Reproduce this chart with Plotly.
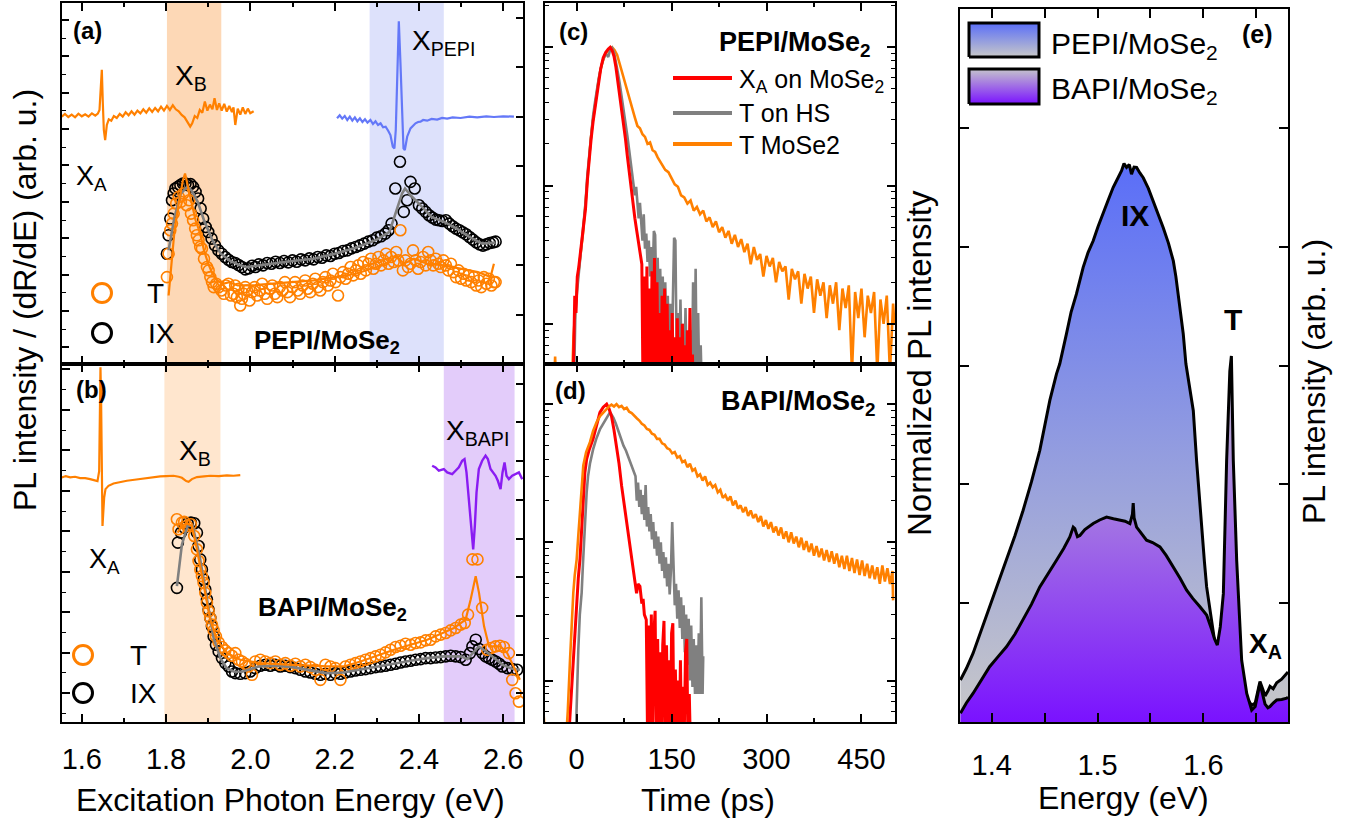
import plotly.graph_objects as go

W, H = 1354, 821

# ---------------- Panel (a): PEPI/MoSe2 ----------------
a_dr_mose2 = [(1.5525, 74.0), (1.5600, 74.8), (1.5680, 73.9), (1.5760, 74.6), (1.5840, 73.8), (1.5920, 74.9),
              (1.6000, 74.1), (1.6080, 74.7), (1.6160, 74.0), (1.6240, 75.0), (1.6320, 74.3), (1.6380, 74.9),
              (1.6420, 76.0), (1.6451, 84.0), (1.6475, 88.0), (1.6499, 78.0), (1.6523, 70.0), (1.6554, 67.0),
              (1.6594, 71.5), (1.6640, 73.2), (1.6700, 72.8), (1.6760, 74.2), (1.6830, 73.6), (1.6900, 74.8),
              (1.6970, 74.0), (1.7040, 75.3), (1.7110, 74.4), (1.7180, 75.6), (1.7250, 74.6), (1.7320, 75.8),
              (1.7390, 75.0), (1.7460, 76.2), (1.7530, 75.2), (1.7600, 76.5), (1.7670, 75.4), (1.7740, 76.6),
              (1.7810, 75.6), (1.7880, 77.0), (1.7950, 75.8), (1.8020, 77.2), (1.8090, 76.0), (1.8160, 77.4),
              (1.8230, 76.2), (1.8300, 75.6), (1.8370, 74.5), (1.8440, 73.8), (1.8500, 72.5), (1.8573, 71.0),
              (1.8620, 72.0), (1.8680, 74.2), (1.8740, 73.6), (1.8800, 76.0), (1.8860, 75.2), (1.8920, 78.5),
              (1.8980, 75.8), (1.9040, 77.6), (1.9100, 76.2), (1.9150, 79.5), (1.9207, 76.0), (1.9260, 78.0),
              (1.9320, 75.8), (1.9380, 77.8), (1.9440, 75.5), (1.9500, 77.2), (1.9563, 75.4), (1.9600, 76.8),
              (1.9642, 71.5), (1.9700, 76.4), (1.9761, 74.6), (1.9820, 76.8), (1.9880, 74.8), (1.9940, 76.4),
              (1.9998, 75.0), (2.0078, 75.6)]
a_dr_pepi = [(2.2057, 73.5), (2.2120, 74.4), (2.2180, 73.4), (2.2240, 74.2), (2.2300, 73.0), (2.2360, 74.0),
             (2.2420, 72.8), (2.2480, 73.8), (2.2540, 72.6), (2.2600, 73.5), (2.2660, 72.4), (2.2720, 73.2),
             (2.2780, 72.2), (2.2849, 73.0), (2.2910, 71.8), (2.2970, 72.6), (2.3030, 71.5), (2.3090, 72.0),
             (2.3150, 70.8), (2.3210, 71.0), (2.3270, 69.8), (2.3324, 68.5), (2.3380, 65.0), (2.3419, 64.5),
             (2.3451, 70.0), (2.3483, 88.0), (2.3523, 102.5), (2.3562, 90.0), (2.3602, 72.0), (2.3634, 64.5),
             (2.3666, 64.0), (2.3721, 68.0), (2.3800, 70.5), (2.3860, 71.2), (2.3919, 72.0), (2.3980, 72.4),
             (2.4037, 72.5), (2.4100, 73.0), (2.4196, 72.8), (2.4300, 73.3), (2.4433, 73.1), (2.4550, 73.6),
             (2.4671, 73.4), (2.4800, 73.8), (2.4988, 73.6), (2.5200, 74.0), (2.5384, 73.8), (2.5600, 74.1),
             (2.5780, 73.9), (2.6000, 74.1), (2.6255, 74.0)]
a_T_pts = [(1.802, 26.0), (1.806, 33.0), (1.810, 40.0), (1.814, 42.0), (1.818, 45.0), (1.824, 48.0), (1.830, 50.0),
           (1.835, 48.5), (1.841, 51.0), (1.849, 47.5), (1.855, 49.0), (1.859, 45.0), (1.864, 43.0), (1.869, 40.5),
           (1.873, 38.5), (1.877, 37.0), (1.881, 35.0), (1.885, 34.5), (1.890, 31.5), (1.897, 29.0), (1.901, 28.0),
           (1.905, 26.0), (1.909, 24.5), (1.913, 23.0), (1.919, 24.0), (1.925, 23.0), (1.931, 22.0), (1.937, 21.0),
           (1.942, 23.5), (1.948, 24.0), (1.954, 20.5), (1.960, 21.0), (1.964, 23.5), (1.968, 20.0), (1.972, 22.5),
           (1.976, 17.5), (1.980, 19.5), (1.984, 21.0), (1.988, 23.0), (1.992, 22.0), (1.998, 19.0), (2.004, 21.5),
           (2.010, 23.0), (2.016, 20.5), (2.022, 22.0), (2.028, 24.0), (2.034, 21.0), (2.040, 19.5), (2.046, 22.5),
           (2.052, 23.5), (2.058, 21.0), (2.064, 20.0), (2.070, 23.0), (2.076, 22.0), (2.082, 24.5), (2.088, 21.5),
           (2.094, 20.0), (2.100, 23.0), (2.106, 24.5), (2.112, 22.0), (2.118, 21.0), (2.124, 23.5), (2.130, 25.0),
           (2.136, 22.5), (2.142, 21.5), (2.148, 24.0), (2.154, 25.5), (2.160, 23.0), (2.166, 22.0), (2.172, 24.5),
           (2.178, 26.0), (2.184, 23.5), (2.190, 25.0), (2.196, 27.0), (2.202, 24.5), (2.208, 20.5), (2.214, 26.0),
           (2.220, 27.5), (2.226, 25.5), (2.232, 27.0), (2.238, 29.0), (2.244, 26.5), (2.250, 28.0), (2.256, 29.5),
           (2.262, 27.0), (2.268, 30.5), (2.274, 28.0), (2.280, 30.0), (2.286, 31.5), (2.292, 28.5), (2.298, 30.0),
           (2.304, 32.0), (2.310, 29.5), (2.316, 31.0), (2.322, 33.0), (2.328, 30.0), (2.334, 32.0), (2.340, 30.5),
           (2.346, 33.5), (2.351, 31.0), (2.356, 40.0), (2.362, 28.0), (2.368, 31.0), (2.374, 29.0), (2.380, 30.0),
           (2.386, 34.0), (2.392, 31.0), (2.398, 28.5), (2.404, 30.5), (2.410, 32.0), (2.416, 29.5), (2.422, 33.5),
           (2.428, 31.0), (2.434, 29.5), (2.440, 31.5), (2.446, 30.0), (2.452, 29.0), (2.458, 31.0), (2.464, 29.5),
           (2.470, 28.0), (2.476, 30.0), (2.482, 27.5), (2.488, 26.0), (2.494, 28.0), (2.500, 25.5), (2.506, 27.0),
           (2.512, 25.0), (2.518, 26.5), (2.524, 24.5), (2.530, 26.0), (2.536, 23.5), (2.542, 25.0), (2.548, 23.0),
           (2.554, 26.0), (2.560, 24.0), (2.566, 25.5), (2.572, 23.5), (2.578, 24.5), (2.582, 24.5)]
a_T_fit = [(1.806, 20.5), (1.812, 30.0), (1.820, 40.0), (1.830, 48.0), (1.840, 55.0), (1.845, 57.0), (1.850, 54.0),
           (1.860, 48.0), (1.870, 43.0), (1.881, 39.0), (1.890, 34.0), (1.900, 30.0), (1.910, 27.0), (1.921, 25.0),
           (1.935, 24.0), (1.950, 24.5), (1.970, 23.5), (2.000, 23.5), (2.050, 24.0), (2.100, 24.5), (2.150, 25.0),
           (2.200, 26.0), (2.250, 27.0), (2.300, 29.0), (2.330, 30.5), (2.345, 32.5), (2.364, 30.0), (2.388, 31.5),
           (2.420, 30.0), (2.459, 29.5), (2.500, 28.5), (2.540, 27.5), (2.570, 26.0), (2.578, 30.0)]
a_IX_pts = [(1.802, 33.0), (1.806, 38.5), (1.810, 43.5), (1.814, 49.0), (1.818, 51.0), (1.822, 52.5), (1.828, 53.0),
            (1.834, 53.5), (1.840, 54.0), (1.846, 54.0), (1.852, 53.5), (1.858, 53.8), (1.864, 53.0), (1.870, 51.5),
            (1.876, 49.5), (1.882, 46.5), (1.888, 43.5), (1.894, 41.0), (1.900, 39.5), (1.908, 37.5), (1.916, 35.5),
            (1.924, 34.0), (1.932, 33.0), (1.940, 32.0), (1.948, 31.2), (1.956, 30.5), (1.964, 30.2), (1.972, 29.6),
            (1.980, 29.0), (1.988, 28.3), (1.996, 28.6), (2.004, 29.4), (2.012, 29.0), (2.020, 29.8), (2.030, 29.5),
            (2.040, 30.2), (2.050, 30.0), (2.060, 30.6), (2.070, 30.2), (2.080, 30.8), (2.090, 30.4), (2.100, 31.0),
            (2.110, 30.6), (2.120, 31.3), (2.130, 31.0), (2.140, 31.6), (2.150, 31.3), (2.160, 32.0), (2.170, 31.8),
            (2.180, 32.5), (2.190, 32.3), (2.200, 33.0), (2.210, 33.2), (2.220, 33.8), (2.230, 34.0), (2.240, 34.6),
            (2.250, 35.0), (2.260, 35.5), (2.270, 36.0), (2.280, 36.6), (2.290, 37.0), (2.300, 37.8), (2.310, 38.2),
            (2.320, 39.0), (2.328, 40.0), (2.335, 42.0), (2.344, 52.5), (2.355, 60.5), (2.364, 45.5), (2.372, 49.0),
            (2.380, 54.5), (2.390, 52.5), (2.400, 47.5), (2.408, 46.5), (2.416, 45.5), (2.424, 44.5), (2.432, 43.8),
            (2.440, 43.2), (2.448, 43.0), (2.456, 42.8), (2.464, 43.0), (2.472, 42.0), (2.480, 41.2), (2.488, 40.5),
            (2.496, 40.0), (2.504, 39.4), (2.512, 38.8), (2.520, 38.0), (2.528, 37.2), (2.536, 36.4), (2.544, 35.8),
            (2.552, 35.4), (2.560, 35.8), (2.568, 36.2), (2.576, 36.4), (2.582, 36.6)]
a_IX_fit = [(1.806, 34.0), (1.820, 44.0), (1.835, 51.0), (1.850, 53.0), (1.860, 52.0), (1.875, 48.5), (1.890, 43.0),
            (1.910, 37.0), (1.930, 33.0), (1.950, 31.0), (1.970, 29.8), (1.990, 29.0), (2.010, 29.3), (2.050, 30.0),
            (2.100, 30.8), (2.150, 31.5), (2.200, 33.0), (2.250, 34.8), (2.300, 37.2), (2.330, 39.5), (2.345, 45.0),
            (2.360, 51.0), (2.367, 52.5), (2.380, 50.5), (2.400, 48.0), (2.430, 44.0), (2.460, 42.5), (2.490, 40.5),
            (2.520, 38.0), (2.550, 36.0), (2.582, 36.3)]
a_bands = [(1.802, 1.931), (2.283, 2.459)]

# ---------------- Panel (b): BAPI/MoSe2 ----------------
b_dr_mose2 = [(1.5525, 73.1), (1.5620, 73.5), (1.5723, 73.1), (1.5840, 73.3), (1.5960, 72.9), (1.6080, 72.9),
              (1.6198, 72.6), (1.6317, 72.3), (1.6372, 72.0), (1.6412, 75.0), (1.6428, 90.0), (1.6443, 106.0),
              (1.6459, 95.0), (1.6475, 72.0), (1.6491, 58.6), (1.6507, 62.0), (1.6530, 67.0), (1.6562, 69.6),
              (1.6633, 70.6), (1.6752, 71.3), (1.6900, 71.7), (1.7069, 72.1), (1.7250, 72.4), (1.7465, 72.8),
              (1.7650, 73.1), (1.7861, 73.4), (1.8000, 73.5), (1.8177, 73.6), (1.8300, 73.3), (1.8375, 73.0),
              (1.8478, 72.0), (1.8534, 71.8), (1.8613, 72.6), (1.8732, 73.2), (1.8900, 73.4), (1.9048, 73.6),
              (1.9250, 73.5), (1.9444, 73.7), (1.9600, 73.6), (1.9761, 73.8)]
b_dr_bapi = [(2.4314, 76.6), (2.4394, 76.1), (2.4473, 75.1), (2.4592, 75.6), (2.4671, 74.6), (2.4790, 74.1),
             (2.4869, 75.1), (2.4948, 76.1), (2.5027, 78.1), (2.5082, 78.6), (2.5129, 74.6), (2.5185, 66.6),
             (2.5240, 58.6), (2.5288, 51.6), (2.5327, 58.6), (2.5367, 68.6), (2.5422, 75.6), (2.5501, 78.1),
             (2.5581, 79.6), (2.5636, 78.6), (2.5699, 75.6), (2.5763, 74.6), (2.5818, 73.6), (2.5873, 72.1),
             (2.5937, 69.6), (2.5984, 74.6), (2.6032, 77.6), (2.6079, 73.6), (2.6135, 72.6), (2.6214, 73.6),
             (2.6293, 74.1), (2.6373, 74.6), (2.6452, 72.6)]
b_T_pts = [(1.8257, 60.6), (1.8296, 57.6), (1.8375, 59.6), (1.8431, 59.8), (1.8494, 58.6), (1.8589, 59.1),
           (1.8668, 55.6), (1.8732, 51.6), (1.8771, 48.1), (1.8811, 45.6), (1.8850, 43.6), (1.8890, 41.6),
           (1.8930, 38.6), (1.8969, 35.6), (1.9009, 33.1), (1.9048, 31.1), (1.9088, 29.1), (1.9128, 27.4),
           (1.9183, 25.6), (1.9247, 23.8), (1.9326, 22.4), (1.9405, 21.4), (1.9485, 20.6), (1.9564, 19.8),
           (1.9643, 20.6), (1.9722, 18.6), (1.9801, 18.1), (1.9880, 17.4), (1.9959, 16.6), (2.0038, 14.1),
           (2.0117, 18.1), (2.0236, 18.6), (2.0355, 18.1), (2.0474, 17.6), (2.0593, 18.1), (2.0711, 17.1),
           (2.0830, 17.6), (2.0949, 16.8), (2.1068, 17.4), (2.1187, 16.6), (2.1306, 17.1), (2.1424, 16.4),
           (2.1543, 15.6), (2.1662, 12.6), (2.1781, 17.1), (2.1900, 16.6), (2.2019, 16.1), (2.2138, 12.6),
           (2.2257, 16.6), (2.2375, 17.1), (2.2494, 17.6), (2.2613, 18.1), (2.2732, 18.6), (2.2851, 19.1),
           (2.2970, 19.6), (2.3089, 20.1), (2.3208, 20.8), (2.3327, 21.6), (2.3446, 22.4), (2.3565, 22.8),
           (2.3683, 23.4), (2.3802, 23.1), (2.3921, 23.6), (2.4040, 23.8), (2.4159, 24.4), (2.4278, 24.6),
           (2.4397, 25.6), (2.4516, 26.1), (2.4635, 26.6), (2.4754, 27.4), (2.4873, 28.1), (2.4992, 29.1),
           (2.5087, 29.6), (2.5166, 32.1), (2.5270, 48.6), (2.5390, 48.6), (2.5501, 34.1), (2.5620, 21.6),
           (2.5715, 22.1), (2.5818, 22.6), (2.5921, 22.8), (2.6016, 22.4), (2.6135, 20.6), (2.6214, 12.6),
           (2.6294, 8.6), (2.6373, 6.1)]
b_T_fit = [(1.8273, 56.6), (1.8375, 58.6), (1.8494, 59.4), (1.8613, 58.6), (1.8732, 51.6), (1.8890, 40.6),
           (1.9048, 30.6), (1.9207, 24.6), (1.9444, 20.6), (1.9761, 18.6), (2.0236, 17.6), (2.1029, 17.1),
           (2.1821, 16.6), (2.2217, 16.6), (2.2613, 18.1), (2.3406, 21.6), (2.4198, 24.6), (2.4832, 28.1),
           (2.5109, 30.6), (2.5228, 36.6), (2.5347, 43.6), (2.5426, 38.6), (2.5546, 28.6), (2.5664, 22.6),
           (2.5937, 22.6), (2.6095, 20.6), (2.6254, 16.6), (2.6397, 12.6)]
b_IX_pts = [(1.8257, 40.1), (1.8280, 53.6), (1.8352, 56.6), (1.8431, 58.1), (1.8510, 59.4), (1.8589, 59.6),
            (1.8668, 59.4), (1.8732, 56.6), (1.8771, 52.6), (1.8811, 48.6), (1.8850, 45.6), (1.8890, 42.6),
            (1.8930, 39.6), (1.8969, 36.6), (1.9009, 33.6), (1.9048, 31.1), (1.9088, 28.6), (1.9128, 25.6),
            (1.9183, 23.1), (1.9247, 21.1), (1.9326, 19.1), (1.9405, 17.6), (1.9485, 16.6), (1.9564, 15.1),
            (1.9643, 14.6), (1.9761, 14.4), (1.9880, 14.6), (1.9998, 15.1), (2.0117, 16.1), (2.0236, 16.8),
            (2.0355, 17.1), (2.0474, 16.8), (2.0593, 17.1), (2.0711, 16.6), (2.0830, 16.8), (2.0949, 16.4),
            (2.1068, 16.1), (2.1187, 15.6), (2.1306, 15.1), (2.1424, 14.8), (2.1543, 14.4), (2.1662, 14.1),
            (2.1781, 14.4), (2.1900, 14.1), (2.2019, 14.6), (2.2138, 14.4), (2.2257, 14.8), (2.2375, 15.1),
            (2.2494, 15.4), (2.2613, 15.6), (2.2732, 15.8), (2.2851, 16.1), (2.2970, 16.4), (2.3089, 16.6),
            (2.3208, 16.8), (2.3327, 17.1), (2.3446, 17.4), (2.3565, 17.8), (2.3683, 18.1), (2.3802, 18.3),
            (2.3921, 18.6), (2.4040, 18.8), (2.4159, 19.1), (2.4278, 19.1), (2.4397, 19.3), (2.4516, 19.4),
            (2.4635, 19.6), (2.4754, 19.8), (2.4873, 19.6), (2.4992, 19.4), (2.5110, 18.6), (2.5213, 20.6),
            (2.5269, 22.6), (2.5348, 24.6), (2.5427, 21.8), (2.5506, 20.6), (2.5585, 19.6), (2.5664, 19.1),
            (2.5743, 18.6), (2.5822, 18.1), (2.5902, 17.4), (2.5980, 16.6), (2.6100, 16.1), (2.6220, 15.8),
            (2.6330, 15.6)]
b_IX_fit = [(1.8257, 40.6), (1.8375, 53.0), (1.8510, 58.6), (1.8630, 58.6), (1.8790, 50.0), (1.8970, 37.0),
            (1.9130, 25.0), (1.9290, 19.0), (1.9440, 16.1), (1.9600, 15.1), (1.9800, 15.0), (2.0200, 16.6),
            (2.0600, 16.8), (2.1000, 16.4), (2.1400, 15.4), (2.1800, 14.6), (2.2200, 14.8), (2.2600, 15.6),
            (2.3000, 16.5), (2.3400, 17.4), (2.3800, 18.3), (2.4200, 19.1), (2.4600, 19.6), (2.5000, 19.6),
            (2.5150, 18.8), (2.5420, 22.6), (2.5600, 21.0), (2.5800, 19.0), (2.6000, 17.0), (2.6200, 16.0),
            (2.6400, 15.6)]
b_bands = [(1.796, 1.929), (2.459, 2.627)]

# ---------------- Panel (c): PEPI/MoSe2 TRPL ----------------
c_xa = [(-6, 0.003), (-3, 0.016), (-1, 0.012), (1, 0.022), (3, 0.025), (5, 0.030), (8, 0.036), (11, 0.048),
        (14, 0.068), (17, 0.11), (20, 0.16), (23, 0.22), (26, 0.29), (29, 0.37), (32, 0.47), (35, 0.59),
        (38, 0.70), (42, 0.84), (46, 0.92), (50, 0.97), (53, 1.0), (56, 0.95), (59, 0.86), (62, 0.72),
        (65, 0.57), (68, 0.46), (71, 0.37), (74, 0.29), (77, 0.22), (80, 0.165), (83, 0.125), (86, 0.095),
        (89, 0.072), (92, 0.058), (95, 0.047), (98, 0.039), (101, 0.031), (103, 0.027), (105, 0.003),
        (107, 0.022), (109, 0.002), (111, 0.026), (113, 0.003), (115, 0.018), (117, 0.002), (119, 0.024),
        (121, 0.003), (123, 0.030), (125, 0.002), (127, 0.020), (129, 0.003), (131, 0.012), (133, 0.002),
        (135, 0.016), (137, 0.003), (139, 0.018), (141, 0.002), (143, 0.014), (145, 0.003), (147, 0.009),
        (149, 0.002), (151, 0.012), (153, 0.003), (155, 0.008), (157, 0.002), (159, 0.011), (161, 0.003),
        (163, 0.008), (165, 0.002), (167, 0.010), (169, 0.003), (171, 0.007), (173, 0.002), (175, 0.009),
        (177, 0.003), (179, 0.013), (181, 0.002), (183, 0.006), (185, 0.002)]
c_t_hs = [(-4, 0.004), (-2, 0.012), (0, 0.016), (2, 0.020), (5, 0.028), (8, 0.038), (11, 0.050), (14, 0.075),
          (17, 0.12), (20, 0.17), (23, 0.24), (26, 0.32), (29, 0.40), (32, 0.50), (35, 0.60), (38, 0.70),
          (42, 0.82), (46, 0.90), (50, 0.85), (53, 0.96), (56, 0.99), (59, 0.92), (62, 0.80), (65, 0.66),
          (68, 0.55), (71, 0.45), (74, 0.36), (77, 0.29), (80, 0.23), (83, 0.18), (86, 0.14), (89, 0.11),
          (92, 0.085), (94, 0.098), (96, 0.070), (98, 0.058), (100, 0.075), (102, 0.050), (104, 0.040),
          (106, 0.062), (108, 0.035), (110, 0.045), (112, 0.028), (114, 0.040), (116, 0.022), (118, 0.036),
          (120, 0.020), (122, 0.047), (124, 0.044), (126, 0.015), (128, 0.030), (130, 0.012), (132, 0.025),
          (134, 0.010), (136, 0.022), (138, 0.008), (140, 0.020), (142, 0.007), (144, 0.016), (146, 0.006),
          (148, 0.014), (150, 0.005), (152, 0.012), (154, 0.042), (156, 0.040), (158, 0.006), (160, 0.012),
          (162, 0.004), (164, 0.015), (166, 0.005), (168, 0.010), (170, 0.004), (172, 0.013), (174, 0.004),
          (176, 0.008), (178, 0.003), (180, 0.009), (182, 0.003), (184, 0.020), (186, 0.003), (188, 0.025),
          (190, 0.003), (192, 0.012), (194, 0.003), (196, 0.007), (198, 0.003)]
c_t_mose2 = [(-36, 0.003), (-34, 0.0058), (-32, 0.003), (-8, 0.003), (-5, 0.008), (-2, 0.014), (1, 0.020),
             (4, 0.026), (7, 0.033), (10, 0.045), (13, 0.065), (16, 0.10), (19, 0.15), (22, 0.21), (25, 0.28),
             (28, 0.36), (31, 0.45), (34, 0.55), (37, 0.66), (40, 0.76), (44, 0.86), (48, 0.93), (52, 0.97),
             (56, 1.0), (60, 0.95), (64, 0.88), (68, 0.76), (72, 0.65), (76, 0.56), (80, 0.48), (84, 0.41),
             (88, 0.36), (92, 0.31), (96, 0.27), (100, 0.26), (104, 0.235), (108, 0.225), (112, 0.20),
             (116, 0.205), (120, 0.18), (124, 0.175), (128, 0.16), (132, 0.15), (136, 0.14), (140, 0.13),
             (145, 0.125), (150, 0.112), (155, 0.102), (160, 0.098), (165, 0.085), (170, 0.082), (175, 0.074),
             (180, 0.078), (185, 0.066), (190, 0.070), (195, 0.062), (200, 0.066), (205, 0.055), (210, 0.059),
             (215, 0.050), (220, 0.055), (225, 0.046), (230, 0.050), (235, 0.042), (240, 0.047), (245, 0.038),
             (250, 0.044), (255, 0.036), (260, 0.041), (265, 0.033), (270, 0.038), (275, 0.027), (280, 0.036),
             (285, 0.029), (290, 0.032), (295, 0.022), (300, 0.031), (305, 0.026), (310, 0.030), (315, 0.020),
             (320, 0.028), (325, 0.024), (330, 0.026), (335, 0.015), (340, 0.025), (345, 0.021), (350, 0.024),
             (355, 0.014), (360, 0.023), (365, 0.018), (370, 0.022), (375, 0.012), (380, 0.021), (385, 0.016),
             (390, 0.020), (395, 0.011), (400, 0.019), (405, 0.014), (410, 0.020), (415, 0.009), (420, 0.018),
             (425, 0.013), (430, 0.019), (435, 0.0045), (440, 0.017), (445, 0.011), (450, 0.018), (455, 0.008),
             (460, 0.016), (465, 0.012), (470, 0.017), (475, 0.0045), (480, 0.015), (485, 0.010), (490, 0.016),
             (495, 0.0045), (500, 0.014), (502, 0.010)]

# ---------------- Panel (d): BAPI/MoSe2 TRPL ----------------
d_xa = [(-14, 0.003), (-10, 0.006), (-8, 0.010), (-5, 0.016), (-2.6, 0.0245), (0, 0.040), (2.6, 0.055),
        (5.3, 0.076), (8, 0.13), (10.5, 0.23), (13, 0.32), (15.8, 0.40), (20, 0.47), (26, 0.56), (31, 0.68),
        (36.8, 0.87), (42, 0.95), (47.4, 1.0), (51, 0.93), (55, 0.82), (59, 0.65), (63, 0.50), (67, 0.37),
        (71, 0.257), (75, 0.19), (79, 0.132), (83, 0.10), (87, 0.076), (91, 0.055), (94.7, 0.0427),
        (97, 0.050), (100, 0.048), (103, 0.036), (105, 0.039), (107, 0.030), (110, 0.0275), (112, 0.004),
        (114, 0.025), (116, 0.003), (118, 0.030), (120, 0.004), (122, 0.022), (124, 0.032), (126, 0.003),
        (128, 0.020), (130, 0.004), (132, 0.016), (134, 0.003), (136, 0.018), (138, 0.027), (140, 0.003),
        (142, 0.018), (144, 0.004), (146, 0.014), (148, 0.003), (150, 0.022), (152, 0.026), (154, 0.003),
        (156, 0.012), (158, 0.004), (160, 0.010), (162, 0.003), (164, 0.014), (166, 0.003), (168, 0.009),
        (170, 0.004), (172, 0.016), (174, 0.020), (176, 0.003), (178, 0.008), (180, 0.003), (182, 0.004)]
d_t_hs = [(-2, 0.003), (0, 0.0081), (2.6, 0.0166), (5, 0.030), (7.9, 0.043), (10, 0.070), (12, 0.11),
          (14, 0.16), (15.8, 0.23), (18, 0.30), (21, 0.37), (26, 0.47), (31, 0.56), (37, 0.66), (42, 0.72),
          (47, 0.78), (50, 0.83), (52.6, 0.87), (55, 0.84), (58, 0.80), (62, 0.72), (66, 0.63), (70, 0.56),
          (74, 0.50), (78, 0.46), (82, 0.41), (86, 0.36), (90, 0.32), (93, 0.30), (95, 0.20), (97, 0.27),
          (99, 0.18), (101, 0.24), (103, 0.16), (105, 0.22), (107, 0.145), (109, 0.26), (111, 0.13),
          (113, 0.18), (115, 0.12), (117, 0.16), (119, 0.105), (121, 0.14), (123, 0.09), (125, 0.12),
          (127, 0.08), (129, 0.11), (131, 0.07), (133, 0.10), (135, 0.062), (137, 0.085), (139, 0.055),
          (141, 0.078), (143, 0.048), (145, 0.070), (147, 0.042), (149, 0.063), (151, 0.14), (153, 0.060),
          (155, 0.035), (157, 0.050), (159, 0.028), (161, 0.045), (163, 0.024), (165, 0.040), (167, 0.020),
          (169, 0.035), (171, 0.016), (173, 0.030), (175, 0.013), (177, 0.028), (179, 0.010), (181, 0.025),
          (183, 0.009), (185, 0.020), (187, 0.008), (189, 0.018), (191, 0.008), (193, 0.022), (195, 0.008),
          (197, 0.040), (199, 0.008), (200, 0.015)]
d_t_mose2 = [(-52, 0.0055), (-50, 0.004), (-18, 0.003), (-14, 0.006), (-10.5, 0.014), (-8, 0.025),
             (-5.3, 0.043), (-3, 0.058), (0, 0.075), (2.5, 0.11), (5.3, 0.173), (8, 0.26), (10.5, 0.36),
             (15, 0.45), (21, 0.53), (26, 0.64), (31.6, 0.74), (37, 0.82), (42, 0.87), (48, 0.94), (52, 0.97),
             (55, 0.99), (59, 0.96), (63, 1.0), (67, 0.95), (71, 0.97), (75, 0.92), (79, 0.94), (83, 0.88),
             (87, 0.86), (91, 0.83), (95, 0.79), (99, 0.76), (103, 0.72), (107, 0.70), (111, 0.66), (115, 0.65),
             (119, 0.61), (123, 0.60), (127, 0.56), (131, 0.56), (135, 0.52), (139, 0.51), (143, 0.48),
             (147, 0.47), (151, 0.44), (155, 0.45), (159, 0.41), (163, 0.42), (167, 0.38), (171, 0.39),
             (175, 0.35), (179, 0.37), (183, 0.33), (187, 0.34), (191, 0.30), (195, 0.31), (199, 0.28),
             (203, 0.30), (207, 0.26), (211, 0.27), (215, 0.25), (219, 0.26), (223, 0.23), (227, 0.24),
             (231, 0.21), (235, 0.22), (239, 0.20), (243, 0.215), (247, 0.185), (251, 0.20), (255, 0.175),
             (259, 0.185), (263, 0.165), (267, 0.18), (271, 0.155), (275, 0.17), (279, 0.15), (283, 0.16),
             (287, 0.14), (291, 0.155), (295, 0.13), (299, 0.145), (303, 0.125), (307, 0.14), (311, 0.118),
             (315, 0.13), (319, 0.112), (323, 0.128), (327, 0.106), (331, 0.12), (335, 0.10), (339, 0.118),
             (343, 0.098), (347, 0.11), (351, 0.092), (355, 0.108), (359, 0.088), (363, 0.102), (367, 0.085),
             (371, 0.098), (375, 0.080), (379, 0.094), (383, 0.078), (387, 0.090), (391, 0.074), (395, 0.088),
             (399, 0.072), (403, 0.086), (407, 0.070), (411, 0.083), (415, 0.066), (419, 0.080), (423, 0.064),
             (427, 0.080), (431, 0.062), (435, 0.077), (439, 0.060), (443, 0.075), (447, 0.058), (451, 0.074),
             (455, 0.057), (459, 0.070), (463, 0.055), (467, 0.068), (471, 0.054), (475, 0.066), (479, 0.050),
             (483, 0.068), (487, 0.052), (491, 0.065), (495, 0.050), (499, 0.062), (500, 0.038)]

# ---------------- Panel (e): PL spectra ----------------
e_pepi = [(1.3704, 0.353), (1.3760, 0.45), (1.3823, 0.577), (1.3900, 0.77), (1.3980, 0.969), (1.4060, 1.16),
          (1.4139, 1.361), (1.4220, 1.57), (1.4296, 1.78), (1.4375, 2.02), (1.4454, 2.286), (1.4500, 2.50),
          (1.4549, 2.706), (1.4612, 2.93), (1.4643, 3.014), (1.4706, 3.266), (1.4750, 3.45), (1.4800, 3.60),
          (1.4864, 3.826), (1.4910, 3.95), (1.4959, 4.05), (1.5005, 4.17), (1.5053, 4.275), (1.5100, 4.39),
          (1.5148, 4.50), (1.5190, 4.57), (1.5227, 4.64), (1.5250, 4.70), (1.5274, 4.667), (1.5300, 4.69),
          (1.5321, 4.61), (1.5345, 4.67), (1.5369, 4.667), (1.5400, 4.62), (1.5432, 4.58), (1.5480, 4.49),
          (1.5526, 4.386), (1.5570, 4.28), (1.5621, 4.16), (1.5670, 4.03), (1.5716, 3.88), (1.5740, 3.75),
          (1.5763, 3.60), (1.5790, 3.42), (1.5810, 3.266), (1.5835, 3.014), (1.5857, 2.90), (1.5880, 2.75),
          (1.5905, 2.62), (1.5936, 2.20), (1.5960, 1.90), (1.5984, 1.64), (1.6010, 1.35), (1.6031, 1.137),
          (1.6055, 0.98), (1.6078, 0.857), (1.6100, 0.72), (1.6132, 0.56), (1.6180, 0.45), (1.6230, 0.38),
          (1.6300, 0.30), (1.6360, 0.24), (1.6410, 0.20), (1.6457, 0.14), (1.6490, 0.16), (1.6535, 0.34),
          (1.6560, 0.28), (1.6583, 0.22), (1.6610, 0.26), (1.6630, 0.30), (1.6660, 0.28), (1.6693, 0.33),
          (1.6740, 0.36), (1.6788, 0.41), (1.6800, 0.42)]
e_bapi = [(1.3704, 0.073), (1.3760, 0.16), (1.3823, 0.24), (1.3900, 0.35), (1.3980, 0.465), (1.4060, 0.55),
          (1.4139, 0.633), (1.4220, 0.74), (1.4296, 0.857), (1.4375, 0.99), (1.4454, 1.137), (1.4530, 1.25),
          (1.4612, 1.361), (1.4680, 1.46), (1.4738, 1.557), (1.4770, 1.64), (1.4785, 1.627), (1.4810, 1.56),
          (1.4833, 1.57), (1.4880, 1.62), (1.4959, 1.67), (1.5020, 1.70), (1.5085, 1.725), (1.5150, 1.71),
          (1.5211, 1.70), (1.5260, 1.69), (1.5306, 1.67), (1.5330, 1.75), (1.5337, 1.843), (1.5345, 1.72),
          (1.5369, 1.64), (1.5420, 1.58), (1.5463, 1.53), (1.5520, 1.51), (1.5590, 1.473), (1.5650, 1.40),
          (1.5716, 1.305), (1.5780, 1.21), (1.5842, 1.11), (1.5900, 1.04), (1.5968, 0.97), (1.6031, 0.90),
          (1.6078, 0.78), (1.6105, 0.70), (1.6132, 0.647), (1.6160, 0.80), (1.6189, 1.08), (1.6220, 2.20),
          (1.6250, 2.95), (1.6265, 3.08), (1.6283, 2.20), (1.6315, 1.36), (1.6362, 0.52), (1.6410, 0.24),
          (1.6457, 0.10), (1.6490, 0.13), (1.6535, 0.325), (1.6560, 0.22), (1.6583, 0.15), (1.6610, 0.12),
          (1.6630, 0.13), (1.6660, 0.16), (1.6693, 0.185), (1.6740, 0.19), (1.6788, 0.20), (1.6800, 0.21)]

# ---------------- styles ----------------
ORANGE = "#FF8000"
BLUE = "#6478F8"
VIOLET = "#8A1CF2"
GRAY = "#808080"
RED = "#FF0000"
FONT = "Arial, Liberation Sans, Helvetica, sans-serif"
BAND_COLORS_A = ["#FDD8B6", "#DDE1FB"]
BAND_COLORS_B = ["#FFE6CE", "#E3CCFA"]
LOG_MINOR = [m * 10.0 ** e for e in (-3, -2, -1, 0) for m in range(2, 10)]


def xs(pairs):
    return [p[0] for p in pairs]


def ys(pairs):
    return [p[1] for p in pairs]


def px2x(px):
    return px / W


def py2y(py):
    return 1 - py / H


fig = go.Figure()


def line(pairs, color, width, xa, ya):
    fig.add_trace(go.Scatter(x=xs(pairs), y=ys(pairs), mode="lines", xaxis=xa, yaxis=ya,
                             line=dict(color=color, width=width), showlegend=False, hoverinfo="skip"))


def circles(pairs, color, xa, ya):
    fig.add_trace(go.Scatter(x=xs(pairs), y=ys(pairs), mode="markers", xaxis=xa, yaxis=ya,
                             marker=dict(symbol="circle-open", size=11, color=color, line=dict(width=1.6)),
                             showlegend=False, hoverinfo="skip"))


# panel (a)
circles(a_IX_pts, "black", "x", "y")
circles(a_T_pts, ORANGE, "x", "y")
line(a_IX_fit, GRAY, 2.6, "x", "y")
line(a_T_fit, ORANGE, 2.2, "x", "y")
line(a_dr_mose2, ORANGE, 2.2, "x", "y")
line(a_dr_pepi, BLUE, 2.2, "x", "y")
# panel (b)
circles(b_IX_pts, "black", "x2", "y2")
circles(b_T_pts, ORANGE, "x2", "y2")
line(b_IX_fit, GRAY, 2.6, "x2", "y2")
line(b_T_fit, ORANGE, 2.2, "x2", "y2")
line(b_dr_mose2, ORANGE, 2.2, "x2", "y2")
line(b_dr_bapi, VIOLET, 2.4, "x2", "y2")
# panel (c)
line(c_t_mose2, ORANGE, 2.6, "x3", "y3")
line(c_t_hs, GRAY, 2.6, "x3", "y3")
line(c_xa, RED, 3.0, "x3", "y3")
# panel (d)
line(d_t_hs, GRAY, 2.6, "x4", "y4")
line(d_xa, RED, 3.0, "x4", "y4")
line(d_t_mose2, ORANGE, 2.6, "x4", "y4")
# panel (e)
fig.add_trace(go.Scatter(x=xs(e_pepi), y=ys(e_pepi), mode="lines", fill="tozeroy", xaxis="x5", yaxis="y5",
                         line=dict(color="black", width=3),
                         fillgradient=dict(type="vertical", start=0, stop=max(ys(e_pepi)),
                                           colorscale=[[0, "#C8C8C8"], [1, "#5A6EF8"]]),
                         showlegend=False, hoverinfo="skip"))
fig.add_trace(go.Scatter(x=xs(e_bapi), y=ys(e_bapi), mode="lines", fill="tozeroy", xaxis="x5", yaxis="y5",
                         line=dict(color="black", width=3),
                         fillgradient=dict(type="vertical", start=0, stop=max(ys(e_bapi)),
                                           colorscale=[[0, "#7A12FF"], [1, "#C4C4CC"]]),
                         showlegend=False, hoverinfo="skip"))

# dummy traces for right-hand tick axes of (a) and (b)
fig.add_trace(go.Scatter(x=[None], y=[None], xaxis="x", yaxis="y6", showlegend=False, hoverinfo="skip"))
fig.add_trace(go.Scatter(x=[None], y=[None], xaxis="x2", yaxis="y7", showlegend=False, hoverinfo="skip"))

# ---------------- legend keys (pixel layout on a full-page overlay) ----------------
LEG_CIRCLES = [(102, 293, ORANGE), (102, 333, "black"), (83, 655, ORANGE), (83, 693, "black")]
LEG_LINES = [(673, 732, 78, RED), (673, 732, 113, GRAY), (673, 732, 144, ORANGE)]
LEG_BOXES = [((969, 1039, 23, 57), [[0, "#C8C8C8"], [1, "#5A6EF8"]]),
             ((969, 1039, 69, 104), [[0, "#7A12FF"], [1, "#C4C4CC"]])]
for cx, cy, col in LEG_CIRCLES:
    fig.add_trace(go.Scatter(x=[cx], y=[H - cy], mode="markers", xaxis="x8", yaxis="y8",
                             marker=dict(symbol="circle-open", size=19, color=col, line=dict(width=3)),
                             showlegend=False, hoverinfo="skip"))
for x0, x1, ly, col in LEG_LINES:
    fig.add_trace(go.Scatter(x=[x0, x1], y=[H - ly, H - ly], mode="lines", xaxis="x8", yaxis="y8",
                             line=dict(color=col, width=4), showlegend=False, hoverinfo="skip"))
for (x0, x1, t0, t1), cs in LEG_BOXES:
    fig.add_trace(go.Scatter(x=[x0, x1, x1, x0, x0], y=[H - t1, H - t1, H - t0, H - t0, H - t1],
                             mode="lines", fill="toself", xaxis="x8", yaxis="y8",
                             line=dict(color="black", width=3),
                             fillgradient=dict(type="vertical", colorscale=cs),
                             showlegend=False, hoverinfo="skip"))

# ---------------- bands ----------------
shapes = []
for (x0, x1), col in zip(a_bands, BAND_COLORS_A):
    shapes.append(dict(type="rect", xref="x", yref="y domain", x0=x0, x1=x1, y0=0, y1=1,
                       fillcolor=col, line=dict(width=0), layer="below"))
for (x0, x1), col in zip(b_bands, BAND_COLORS_B):
    shapes.append(dict(type="rect", xref="x2", yref="y2 domain", x0=x0, x1=x1, y0=0, y1=1,
                       fillcolor=col, line=dict(width=0), layer="below"))

# ---------------- axes ----------------
TICKFONT = dict(family=FONT, size=29, color="black")


def ax(**kw):
    d = dict(showline=True, linecolor="black", linewidth=2, ticks="inside", tickcolor="black",
             tickwidth=1.6, showgrid=False, zeroline=False, tickfont=TICKFONT)
    d.update(kw)
    return d


dom_x_ab = [px2x(62), px2x(523)]
dom_x_cd = [px2x(545), px2x(895)]
dom_x_e = [px2x(960), px2x(1288)]
dom_y_top = [py2y(364), py2y(3)]
dom_y_bot = [py2y(722), py2y(364)]
dom_y_e = [py2y(722), py2y(9)]


def x_ab(**kw):
    return ax(range=[1.553, 2.647], tick0=1.6, dtick=0.2, ticklen=8, mirror="ticks", tickformat=".1f",
              minor=dict(ticks="inside", ticklen=4, dtick=0.1, tickcolor="black", tickwidth=1.6), **kw)


def x_cd(**kw):
    return ax(range=[-50, 503], tick0=0, dtick=150, ticklen=8, mirror="ticks",
              minor=dict(ticks="inside", ticklen=4, dtick=75, tickcolor="black", tickwidth=1.6), **kw)


def y_log(**kw):
    return ax(type="log", tickvals=[0.001, 0.01, 0.1, 1], ticklen=8, mirror="ticks", showticklabels=False,
              minor=dict(ticks="inside", ticklen=4, tickvals=LOG_MINOR, tickcolor="black", tickwidth=1.4), **kw)


fig.update_layout(
    xaxis=x_ab(domain=dom_x_ab, anchor="y", showticklabels=False),
    yaxis=ax(domain=dom_y_top, anchor="x", range=[0, 108], tick0=5.0, dtick=10.88, ticklen=7,
             mirror=True, showticklabels=False,
             minor=dict(ticks="inside", ticklen=4, dtick=5.44, tick0=5.0, tickcolor="black", tickwidth=1.4)),
    yaxis6=dict(overlaying="y", side="right", anchor="x", range=[0, 108], tick0=14.8, dtick=14.8,
                ticks="inside", ticklen=7, tickwidth=1.6, tickcolor="black", showline=False,
                showticklabels=False, showgrid=False, zeroline=False),
    xaxis2=x_ab(domain=dom_x_ab, anchor="y2", showticklabels=True, ticklabelstandoff=10),
    yaxis2=ax(domain=dom_y_bot, anchor="x2", range=[0, 107], tick0=8.6, dtick=12.1, ticklen=8,
              mirror=True, showticklabels=False,
              minor=dict(ticks="inside", ticklen=4, dtick=6.05, tick0=8.6, tickcolor="black", tickwidth=1.4)),
    yaxis7=dict(overlaying="y2", side="right", anchor="x2", range=[0, 107], tick0=8.6, dtick=11.56,
                ticks="inside", ticklen=7, tickwidth=1.6, tickcolor="black", showline=False,
                showticklabels=False, showgrid=False, zeroline=False),
    xaxis3=x_cd(domain=dom_x_cd, anchor="y3", showticklabels=False),
    yaxis3=y_log(domain=dom_y_top, anchor="x3", range=[-2.29, 0.32]),
    xaxis4=x_cd(domain=dom_x_cd, anchor="y4", showticklabels=True, ticklabelstandoff=10),
    yaxis4=y_log(domain=dom_y_bot, anchor="x4", range=[-2.30, 0.29]),
    xaxis5=ax(domain=dom_x_e, anchor="y5", range=[1.37, 1.68], tick0=1.4, dtick=0.1, ticklen=9,
              mirror="ticks", tickformat=".1f", ticklabelstandoff=16,
              minor=dict(ticks="inside", ticklen=9, dtick=0.05, tickcolor="black", tickwidth=1.6)),
    yaxis5=ax(domain=dom_y_e, anchor="x5", range=[0, 6], dtick=1, ticklen=9, mirror="ticks",
              showticklabels=False),
    xaxis8=dict(domain=[0, 1], range=[0, W], anchor="y8", visible=False, fixedrange=True),
    yaxis8=dict(domain=[0, 1], range=[0, H], anchor="x8", visible=False, fixedrange=True),
)

# ---------------- text ----------------
TEXTS = [
    ("<b>(a)</b>", 87, 30, 24, "center", 0),
    ("X<sub>B</sub>", 191, 77, 28, "center", 0),
    ("X<sub>PEPI</sub>", 443, 43, 28, "center", 0),
    ("X<sub>A</sub>", 91, 178, 27, "center", 0),
    ("T", 155, 293, 28, "center", 0),
    ("IX", 161, 333, 28, "center", 0),
    ("<b>PEPI/MoSe<sub>2</sub></b>", 327, 341, 26, "center", 0),
    ("<b>(b)</b>", 91, 389, 24, "center", 0),
    ("X<sub>B</sub>", 195, 452, 28, "center", 0),
    ("X<sub>BAPI</sub>", 477, 432, 28, "center", 0),
    ("X<sub>A</sub>", 104, 561, 27, "center", 0),
    ("T", 138, 655, 28, "center", 0),
    ("IX", 143, 693, 28, "center", 0),
    ("<b>BAPI/MoSe<sub>2</sub></b>", 332, 608, 26, "center", 0),
    ("<b>(c)</b>", 573, 32, 24, "center", 0),
    ("<b>PEPI/MoSe<sub>2</sub></b>", 873, 44, 27, "right", 0),
    ("X<sub>A</sub> on MoSe<sub>2</sub>", 737, 81, 25, "left", 0),
    ("T on HS", 737, 113, 25, "left", 0),
    ("T MoSe2", 737, 145, 25, "left", 0),
    ("<b>(d)</b>", 570, 390, 24, "center", 0),
    ("<b>BAPI/MoSe<sub>2</sub></b>", 878, 403, 27, "right", 0),
    ("<b>(e)</b>", 1257, 34, 25, "center", 0),
    ("PEPI/MoSe<sub>2</sub>", 1049, 45, 30, "left", 0),
    ("BAPI/MoSe<sub>2</sub>", 1049, 91, 30, "left", 0),
    ("<b>IX</b>", 1135, 215, 30, "center", 0),
    ("<b>T</b>", 1233, 320, 30, "center", 0),
    ("<b>X<sub>A</sub></b>", 1265, 645, 28, "center", 0),
    ("PL intensity / (dR/dE) (arb. u.)", 25, 300, 32, "center", -90),
    ("Normalized PL intensity", 919, 363, 33, "center", -90),
    ("PL intensity (arb. u.)", 1314, 382, 32, "center", -90),
    ("Excitation Photon Energy (eV)", 290, 800, 32, "center", 0),
    ("Time (ps)", 708, 800, 32, "center", 0),
    ("Energy (eV)", 1123, 798, 32, "center", 0),
]
annotations = []
for txt, px, py, size, xan, ang in TEXTS:
    annotations.append(dict(text=txt, x=px2x(px), y=py2y(py), xref="paper", yref="paper", showarrow=False,
                            xanchor=xan, yanchor="middle", textangle=ang,
                            font=dict(family=FONT, size=size, color="black")))

fig.update_layout(
    width=W, height=H, margin=dict(l=0, r=0, t=0, b=0, pad=0),
    paper_bgcolor="white", plot_bgcolor="rgba(0,0,0,0)", showlegend=False,
    font=dict(family=FONT, color="black"),
    shapes=shapes, annotations=annotations,
)

fig.write_html("out.html", config={"displayModeBar": False},
               post_script="document.body.style.margin='0';document.body.style.padding='0';")
